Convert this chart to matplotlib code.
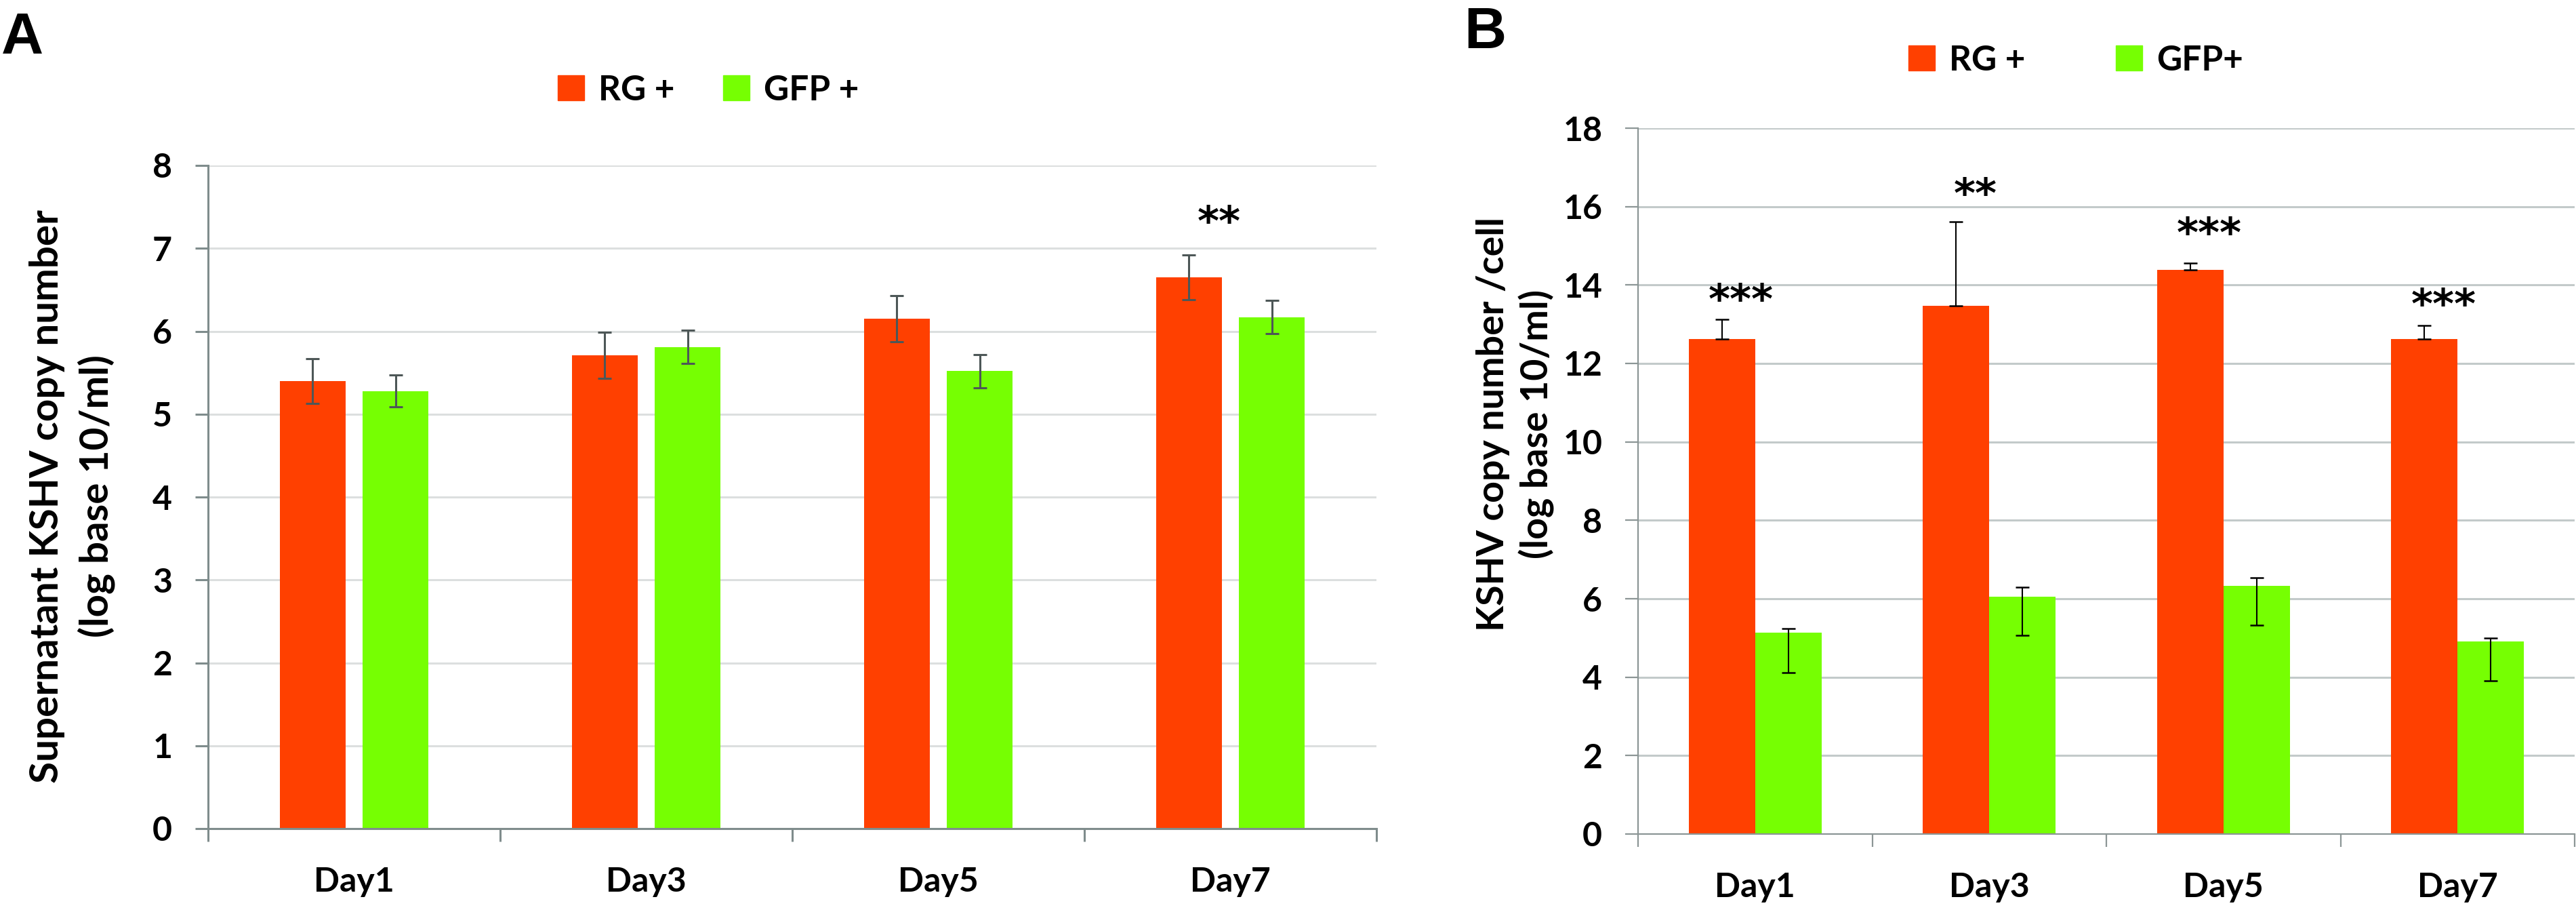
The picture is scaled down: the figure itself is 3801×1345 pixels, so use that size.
import numpy as np
import matplotlib
matplotlib.use('Agg')
import matplotlib.pyplot as plt
from matplotlib.patches import Patch

# Categories
days = ['Day1', 'Day3', 'Day5', 'Day7']

# Panel A: supernatant KSHV copy number (log10/ml)
a_rg = [5.40, 5.71, 6.15, 6.65]
a_rg_err = [0.27, 0.28, 0.28, 0.27]
a_gfp = [5.28, 5.81, 5.52, 6.17]
a_gfp_err = [0.19, 0.20, 0.20, 0.20]
a_stars = ['', '', '', '**']
a_star_y = [0, 0, 0, 7.29]

# Panel B: KSHV copy number per cell (log10/ml)
b_rg = [12.62, 13.47, 14.38, 12.62]
b_rg_err_up = [0.50, 2.15, 0.18, 0.35]
b_gfp = [5.13, 6.06, 6.33, 4.91]
b_gfp_err_up = [0.11, 0.23, 0.21, 0.09]
b_gfp_err_down = [1.01, 0.99, 1.00, 1.00]
b_stars = ['***', '**', '***', '***']
b_star_y = [13.56, 16.26, 15.26, 13.44]

RED = '#ff4000'
GREEN = '#76ff02'
TICK_FONT = ['Lato', 'DejaVu Sans']

W, H = 3801, 1345
fig = plt.figure(figsize=(W / 100, H / 100), dpi=100)


def px_axes(left, right, top, bottom):
    return fig.add_axes([left / W, 1 - bottom / H, (right - left) / W, (bottom - top) / H])


def style_axes(ax, ymax, ystep, spine_color, grid_color, lw):
    x = np.arange(len(days))
    ax.set_xlim(-0.5, len(days) - 0.5)
    ax.set_ylim(0, ymax)
    ax.set_yticks(np.arange(0, ymax + 0.1, ystep))
    ax.set_xticks(np.arange(len(days) + 1) - 0.5)
    ax.set_xticklabels([])
    ax.set_xticks(x, minor=True)
    ax.set_xticklabels(days, minor=True, fontsize=36, fontweight='bold', family=TICK_FONT)
    ax.tick_params(axis='x', which='minor', length=0, pad=40)
    ax.tick_params(axis='x', which='major', length=14, width=lw, color=spine_color)
    ax.tick_params(axis='y', length=14, width=lw, color=spine_color, pad=24)
    for lab in ax.get_yticklabels():
        lab.set_fontsize(36)
        lab.set_fontweight('bold')
        lab.set_family(TICK_FONT)
    for s in ['top', 'right']:
        ax.spines[s].set_visible(False)
    for s in ['left', 'bottom']:
        ax.spines[s].set_color(spine_color)
        ax.spines[s].set_linewidth(lw)
    ax.yaxis.grid(True, color=grid_color, linewidth=2.2)
    ax.set_axisbelow(True)


def star_text(ax, xpos, ypos, s):
    ax.text(xpos, ypos, s, ha='center', va='center', fontsize=44,
            fontweight='bold', family='DejaVu Sans')


# ---- Panel A ----
axA = px_axes(307, 2031, 244, 1222)
x = np.arange(len(days))
wA = 0.225
axA.bar(x - 0.142, a_rg, wA, color=RED, zorder=2)
axA.bar(x + 0.142, a_gfp, wA, color=GREEN, zorder=2)
axA.errorbar(x - 0.142, a_rg, yerr=a_rg_err, fmt='none', ecolor='#4d5757',
             elinewidth=2.2, capsize=7, capthick=2.2, zorder=3)
axA.errorbar(x + 0.142, a_gfp, yerr=a_gfp_err, fmt='none', ecolor='#4d5757',
             elinewidth=2.2, capsize=7, capthick=2.2, zorder=3)
for i, s in enumerate(a_stars):
    if s:
        star_text(axA, x[i] - 0.04, a_star_y[i], s)
style_axes(axA, 8, 1, '#7f8c8c', '#dcdfdf', 2.2)
axA.set_ylabel('Supernatant KSHV copy number\n(log base 10/ml)', fontsize=42,
               fontweight='bold', family=TICK_FONT, linespacing=1.4)
axA.yaxis.set_label_coords(-0.0795, 0.501)

# ---- Panel B ----
axB = px_axes(2417, 3799, 189, 1230)
wB = 0.284
axB.bar(x - 0.142, b_rg, wB, color=RED, zorder=2)
axB.bar(x + 0.142, b_gfp, wB, color=GREEN, zorder=2)
axB.errorbar(x - 0.142, b_rg, yerr=[np.zeros(len(days)), b_rg_err_up], fmt='none',
             ecolor='black', elinewidth=1.5, capsize=7, capthick=1.8, zorder=3)
axB.errorbar(x + 0.142, b_gfp, yerr=[b_gfp_err_down, b_gfp_err_up], fmt='none',
             ecolor='black', elinewidth=1.5, capsize=7, capthick=1.8, zorder=3)
for i, s in enumerate(b_stars):
    star_text(axB, x[i] - 0.06, b_star_y[i], s)
style_axes(axB, 18, 2, '#8c9696', '#c3caca', 1.6)
axB.set_ylabel('KSHV copy number /cell\n(log base 10/ml)', fontsize=40,
               fontweight='bold', family=TICK_FONT, linespacing=1.3)
axB.yaxis.set_label_coords(-0.089, 0.581)

# ---- Legends ----
legA = [Patch(color=RED, label='RG +'), Patch(color=GREEN, label='GFP +')]
fig.legend(handles=legA, loc='center', bbox_to_anchor=(1045 / W, 1 - 133 / H), ncol=2,
           frameon=False, prop={'family': TICK_FONT, 'weight': 'bold', 'size': 37},
           handlelength=0.76, handleheight=0.74, handletextpad=0.4, columnspacing=1.4,
           borderpad=0)
legB = [Patch(color=RED, label='RG +'), Patch(color=GREEN, label='GFP+')]
fig.legend(handles=legB, loc='center', bbox_to_anchor=(3063 / W, 1 - 89 / H), ncol=2,
           frameon=False, prop={'family': TICK_FONT, 'weight': 'bold', 'size': 37},
           handlelength=0.76, handleheight=0.74, handletextpad=0.4, columnspacing=2.6,
           borderpad=0)

# Panel letters
fig.text(2 / W, 1 - 57 / H, 'A', fontsize=62, fontweight='bold', family='Liberation Sans',
         va='center', ha='left')
fig.text(2160 / W, 1 - 49 / H, 'B', fontsize=62, fontweight='bold', family='Liberation Sans',
         va='center', ha='left')

fig.savefig('out.png', dpi=100, facecolor='white')
